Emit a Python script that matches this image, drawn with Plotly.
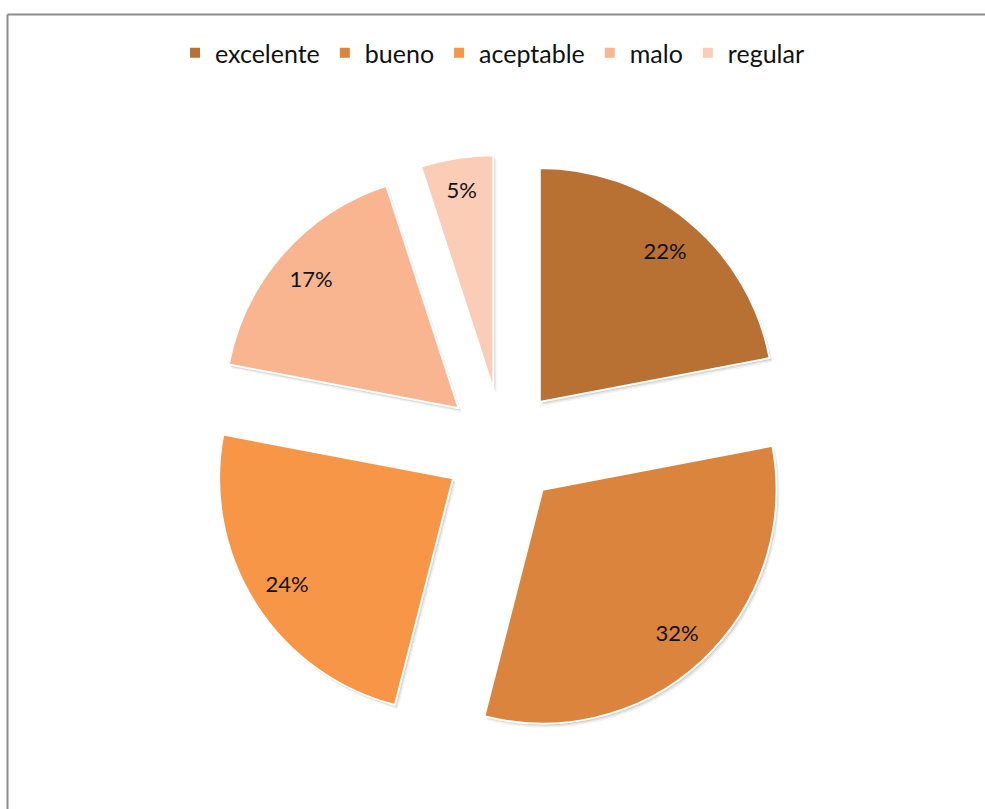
import plotly.graph_objects as go

# Survey ratings and their shares (%)
categories = ["excelente", "bueno", "aceptable", "malo", "regular"]
shares = [22, 32, 24, 17, 5]
colors = ["#B87033", "#DB843D", "#F79646", "#F9B590", "#FBCDB7"]

W, H = 985, 809
cx, cy = 502.5, 447.0          # pie centre in px
radius = 234.0                  # slice radius in px
pull = 0.25                     # explode distance as a fraction of the radius
half = radius * (1 + pull)      # half-size of the square pie domain


def pie_domain(dx=0.0, dy=0.0):
    """Square pie domain around the centre, optionally nudged by (dx, dy) px."""
    x0, x1 = cx + dx - half, cx + dx + half
    y0, y1 = cy + dy - half, cy + dy + half
    return dict(x=[x0 / W, x1 / W], y=[1 - y1 / H, 1 - y0 / H])


common = dict(
    labels=categories,
    values=shares,
    sort=False,
    direction="clockwise",
    rotation=0,
    pull=[pull] * len(shares),
)

fig = go.Figure()

# Soft drop shadow: faint grey copies nudged down and to the right
for (dx, dy, alpha) in [(3.0, 4.0, 0.05), (2.0, 2.5, 0.08), (1.0, 1.5, 0.10)]:
    fig.add_trace(
        go.Pie(
            **common,
            domain=pie_domain(dx, dy),
            marker=dict(colors=[f"rgba(0,0,0,{alpha})"] * len(shares),
                        line=dict(width=0)),
            textinfo="none",
            showlegend=False,
            hoverinfo="skip",
        )
    )

# Filled, exploded slices
fig.add_trace(
    go.Pie(
        **common,
        domain=pie_domain(),
        marker=dict(colors=colors, line=dict(color="white", width=2)),
        textinfo="none",
        hoverinfo="label+percent",
    )
)

# Transparent ring on top so the percentage labels sit near the outer edge
fig.add_trace(
    go.Pie(
        **common,
        domain=pie_domain(),
        hole=0.68,
        marker=dict(colors=["rgba(0,0,0,0)"] * len(shares), line=dict(width=0)),
        texttemplate="%{percent:.0%}",
        textposition="inside",
        insidetextorientation="horizontal",
        textfont=dict(family="Lato", size=22, color="#111111"),
        showlegend=False,
        hoverinfo="skip",
    )
)

# Chart frame (top and left edges)
frame = dict(color="#8c8c8c", width=2)
fig.add_shape(type="line", xref="paper", yref="paper",
              x0=7.5 / W, x1=1, y0=1 - 14.5 / H, y1=1 - 14.5 / H, line=frame)
fig.add_shape(type="line", xref="paper", yref="paper",
              x0=7.5 / W, x1=7.5 / W, y0=0, y1=1 - 14.5 / H, line=frame)

fig.update_layout(
    width=W,
    height=H,
    margin=dict(l=0, r=0, t=0, b=0),
    paper_bgcolor="white",
    plot_bgcolor="white",
    showlegend=True,
    legend=dict(
        orientation="h",
        x=0.5, xanchor="center",
        y=1 - 53 / H, yanchor="middle",
        itemwidth=30,
        traceorder="normal",
        font=dict(family="Lato", size=25, color="#111111"),
    ),
)

fig.write_html("out.html")
